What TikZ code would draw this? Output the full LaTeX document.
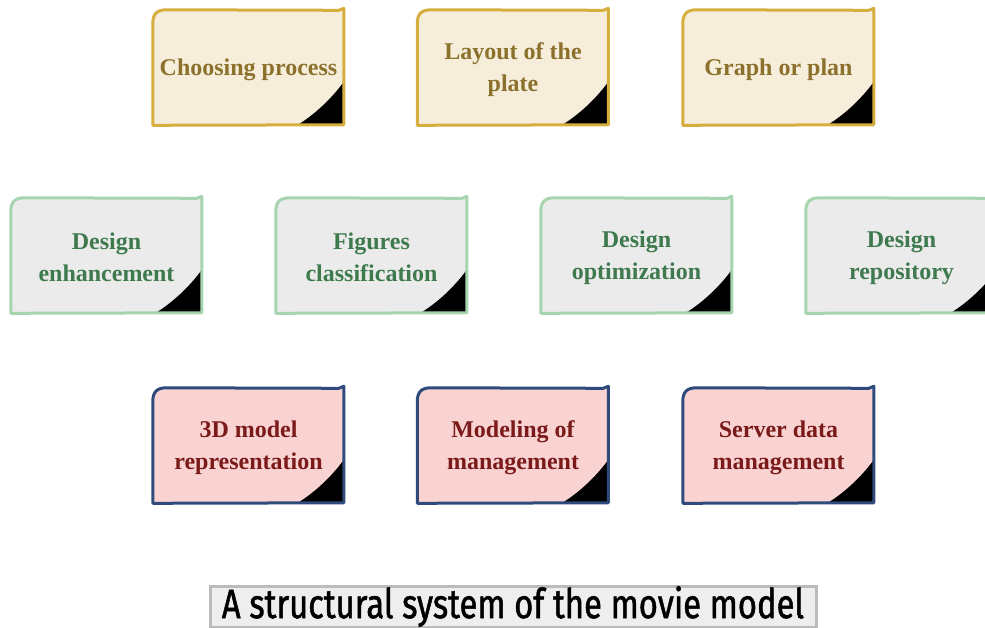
\documentclass[tikz,border=0pt]{standalone}
\usepackage{fontspec}
\setmainfont{Liberation Serif}
\newfontfamily\titlefont[FakeStretch=0.8, FakeBold=1.2]{Fira Sans}
\usetikzlibrary{backgrounds}

\definecolor{goldfill}{HTML}{F6EEDB}
\definecolor{golddraw}{HTML}{D6AE3E}
\definecolor{goldtext}{HTML}{8C712C}
\definecolor{greenfill}{HTML}{EBEBEB}
\definecolor{greendraw}{HTML}{A6D4AF}
\definecolor{greentext}{HTML}{3E7A4E}
\definecolor{redfill}{HTML}{F9D3D2}
\definecolor{reddraw}{HTML}{2F4B7B}
\definecolor{redtext}{HTML}{7A1A1A}
\definecolor{titlefill}{HTML}{EEEEEE}
\definecolor{titledraw}{HTML}{BBBBBB}

\tikzset{
  card/.style={minimum width=191pt, minimum height=115pt, inner sep=0pt,
    align=center, font=\fontsize{24}{32}\selectfont\bfseries},
  goldcard/.style={card, text=goldtext},
  greencard/.style={card, text=greentext},
  redcard/.style={card, text=redtext},
  titlebox/.style={draw=titledraw, fill=titlefill, line width=3pt,
    minimum width=606pt, minimum height=41pt, inner sep=0pt,
    font=\titlefont\fontsize{41}{44}\selectfont},
}

% hand-drawn card outline with a folded black corner, placed on a node
% (the label sits 2pt below the card's centre)
\newcommand\cardshape[3]{%
  \begin{scope}[shift={(#1.north west)}, yshift=2pt]
    \fill[#2] (0,14) .. controls (0,4) and (4,0) .. (14,0) -- (186,0.5)
      -- (191,-1.5) -- (191,115) -- (0,115.5) -- cycle;
    \fill[black] (145,115) .. controls (160,106) and (178,90) .. (191,72)
      -- (191,115) -- cycle;
    \draw[#3, line width=3pt, line join=round, line cap=round]
      (0,14) .. controls (0,4) and (4,0) .. (14,0) -- (186,0.5)
      -- (191,-1.5) -- (191,115) -- (0,115.5) -- cycle;
  \end{scope}}

\begin{document}
\begin{tikzpicture}[x=1pt, y=-1pt]
  \clip (0,0) rectangle (985,628);
  \useasboundingbox (0,0) rectangle (985,628);

  % top row
  \node[goldcard] (choose) at (248.5,69.5) {Choosing process};
  \node[goldcard] (layout) at (513,69.5) {Layout of the\\plate};
  \node[goldcard] (graph)  at (778.5,69.5) {Graph or plan};

  % middle row
  \node[greencard] (enh)  at (106.5,257.5) {Design\\enhancement};
  \node[greencard] (figs) at (371.5,257.5) {Figures\\classification};
  \node[greencard] (opt)  at (636.5,257.5) {Design\\optimization};
  \node[greencard] (repo) at (901.5,257.5) {Design\\repository};

  % bottom row
  \node[redcard] (model) at (248.5,447.5) {3D model\\representation};
  \node[redcard] (mgmt)  at (513,447.5) {Modeling of\\management};
  \node[redcard] (serv)  at (778.5,447.5) {Server data\\management};

  \node[titlebox] (title) at (513,606.5) {A structural system of the movie model};

  \begin{pgfonlayer}{background}
    \foreach \n in {choose,layout,graph}{\cardshape{\n}{goldfill}{golddraw}}
    \foreach \n in {enh,figs,opt,repo}{\cardshape{\n}{greenfill}{greendraw}}
    \foreach \n in {model,mgmt,serv}{\cardshape{\n}{redfill}{reddraw}}
  \end{pgfonlayer}
\end{tikzpicture}
\end{document}
